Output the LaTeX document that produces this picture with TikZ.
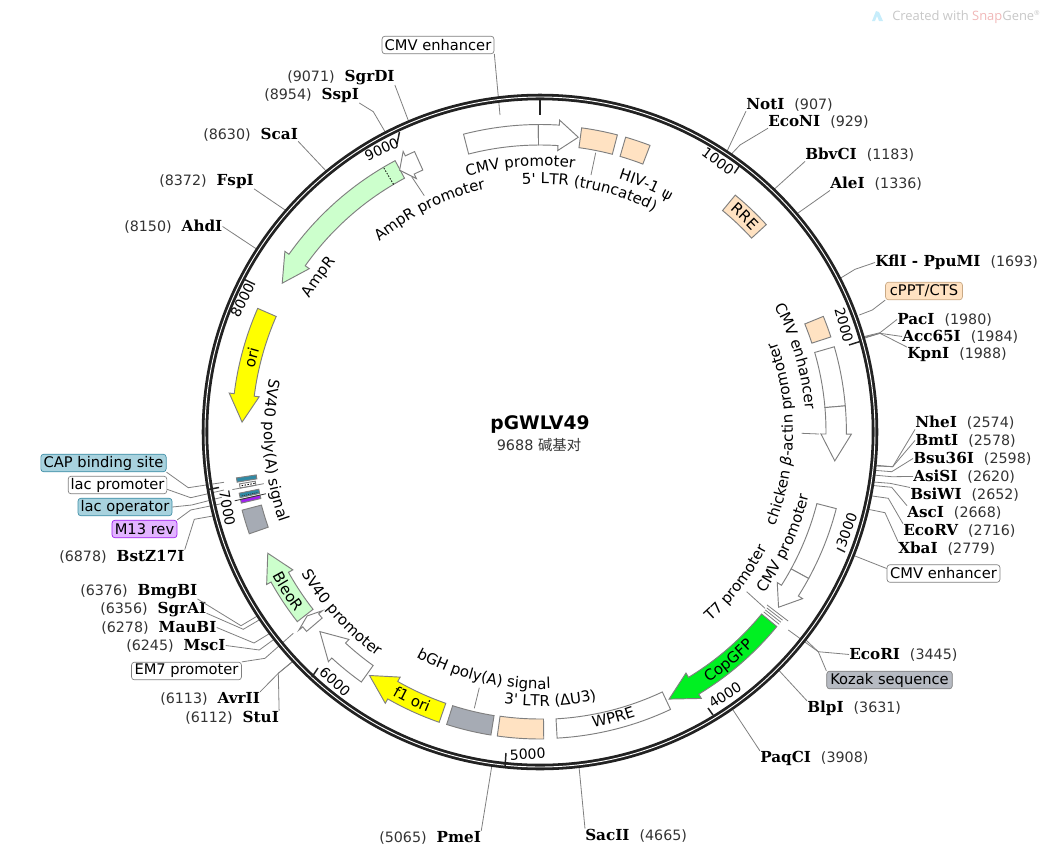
\documentclass[tikz,border=0pt]{standalone}
\usepackage{fontspec}
\usetikzlibrary{decorations.text}
\newfontfamily\sansf{DejaVu Sans}
\newfontfamily\serf{DejaVu Serif}
\newfontfamily\wmf{Open Sans}
\newfontfamily\cjkf{Noto Sans CJK SC}
\newcommand\lblfont{\sansf\fontsize{11}{13}\selectfont}
\newcommand\arcfont{\sansf\fontsize{11.25}{13}\selectfont}
\newcommand\sitename[1]{{\serf\bfseries\fontsize{11.4}{13}\selectfont #1}}
\newcommand\sitenum[1]{{\sansf\fontsize{10.7}{13}\selectfont\color{numcol}#1}}
\definecolor{numcol}{HTML}{333333}
\definecolor{ringcol}{HTML}{222222}
\definecolor{edge}{HTML}{7F7F7F}
\definecolor{peach}{HTML}{FFE2C2}
\definecolor{peachedge}{HTML}{C9A985}
\definecolor{paleg}{HTML}{CCFFCC}
\definecolor{greyf}{HTML}{A6ABB4}
\definecolor{vivid}{HTML}{00F022}
\definecolor{yel}{HTML}{FFFF00}
\definecolor{teal1}{HTML}{2F8AA5}
\definecolor{tealbox}{HTML}{A8D2DE}
\definecolor{tealedge}{HTML}{3E8EA6}
\definecolor{purp}{HTML}{A020F0}
\definecolor{purpbox}{HTML}{E2B4FF}
\definecolor{kozak}{HTML}{B6BAC2}
\tikzset{
  x=0.75pt,y=-0.75pt,
  feat/.style={draw=edge,line width=0.7pt,line join=miter},
  lead/.style={draw=edge,line width=0.6pt},
  ticka/.style={draw=ringcol,line width=1.1pt},
  sitelab/.style={inner sep=0pt,anchor=west,yshift=-1.1pt},
  ticklab/.style={inner sep=0pt,font=\sansf\fontsize{10.5}{13}\selectfont,text=black},
  lbox/.style={rounded corners=2.2pt,draw=#1,line width=0.5pt,inner sep=0pt,minimum height=13.2pt,font=\lblfont,text=black},
}
\newcommand\farc[5]{\draw[feat,fill=#5] plot[domain=#1:#2,samples=25] ({\x-90}:#4) -- plot[domain=#2:#1,samples=25] ({\x-90}:#3) -- cycle;}
\newcommand\farrow[6]{\draw[feat,fill=#6] plot[domain=#1:#2,samples=25] ({\x-90}:#5) -- ({#2-90}:{#5+5}) -- ({#3-90}:{(#4+#5)/2}) -- ({#2-90}:{#4-5}) -- plot[domain=#2:#1,samples=25] ({\x-90}:#4) -- cycle;}
\newcommand\arclab[4]{\pgfmathsetmacro\thA{#3-35*#4}\pgfmathsetmacro\thB{#3+35*#4}
  \path[decorate,decoration={text along path,text align=center,text={#1}}] plot[domain=\thA:\thB,samples=71] ({\x-90}:#2);}
\newcommand\ringpt[2]{\coordinate (#1) at ({#2/9688*360-90}:336);}
\newcommand\sitel[5]{\node[sitelab] (#1) at (#2,#3) {\sitenum{#4}\hspace{7.5pt}\sitename{#5}};}
\newcommand\siter[5]{\node[sitelab] (#1) at (#2,#3) {\sitename{#4}\hspace{7.5pt}\sitenum{#5}};}
\begin{document}
\begin{tikzpicture}
\useasboundingbox (0,0) rectangle (1051,854);
% ---- labels of the sites
\sitel{SgrDI}{287}{76}{(9071)}{SgrDI}
\sitel{SspI}{264}{94}{(8954)}{SspI}
\sitel{ScaI}{203}{133}{(8630)}{ScaI}
\sitel{FspI}{159}{180}{(8372)}{FspI}
\sitel{AhdI}{124}{225}{(8150)}{AhdI}
\sitel{BstZ}{59}{555}{(6878)}{BstZ17I}
\sitel{BmgBI}{80}{590}{(6376)}{BmgBI}
\sitel{SgrAI}{100}{608}{(6356)}{SgrAI}
\sitel{MauBI}{101}{626}{(6278)}{MauBI}
\sitel{MscI}{126}{644}{(6245)}{MscI}
\sitel{AvrII}{160}{697}{(6113)}{AvrII}
\sitel{StuI}{185}{716}{(6112)}{StuI}
\sitel{PmeI}{379}{836}{(5065)}{PmeI}
\siter{NotI}{746}{103}{NotI}{(907)}
\siter{EcoNI}{768}{120}{EcoNI}{(929)}
\siter{BbvCI}{805}{153}{BbvCI}{(1183)}
\siter{AleI}{830}{182}{AleI}{(1336)}
\siter{Kfl}{875}{261}{KflI - PpuMI}{(1693)}
\siter{PacI}{897}{318}{PacI}{(1980)}
\siter{Acc}{902}{335}{Acc65I}{(1984)}
\siter{KpnI}{907}{353}{KpnI}{(1988)}
\siter{NheI}{915}{421}{NheI}{(2574)}
\siter{BmtI}{915}{439}{BmtI}{(2578)}
\siter{Bsu}{913}{457}{Bsu36I}{(2598)}
\siter{AsiSI}{913}{475}{AsiSI}{(2620)}
\siter{BsiWI}{910}{493}{BsiWI}{(2652)}
\siter{AscI}{907}{511}{AscI}{(2668)}
\siter{EcoRV}{903}{529}{EcoRV}{(2716)}
\siter{XbaI}{898}{547}{XbaI}{(2779)}
\siter{EcoRI}{849}{653}{EcoRI}{(3445)}
\siter{BlpI}{807}{707}{BlpI}{(3631)}
\siter{PaqCI}{760}{757}{PaqCI}{(3908)}
\siter{SacII}{585}{834}{SacII}{(4665)}
% ---- boxed feature labels
\node[lbox=edge,fill=white,minimum width=84pt] (bCMVtop) at (438,45) {CMV enhancer};
\node[lbox=peachedge,fill=peach,minimum width=57.7pt] (bcPPT) at (924,291) {cPPT/CTS};
\node[lbox=edge,fill=white,minimum width=84.7pt] (bCMVr) at (943.5,573.5) {CMV enhancer};
\node[lbox=edge,fill=kozak,minimum width=94.2pt] (bKozak) at (889.5,680) {Kozak sequence};
\node[lbox=edge,fill=white,minimum width=82.5pt] (bEM7) at (186.5,671) {EM7 promoter};
\node[lbox=tealedge,fill=tealbox,minimum width=94pt] (bCAP) at (103.5,463) {CAP binding site};
\node[lbox=edge,fill=white,minimum width=74pt] (blacP) at (117.5,485) {lac promoter};
\node[lbox=tealedge,fill=tealbox,minimum width=70.5pt] (blacO) at (125,507) {lac operator};
\node[lbox=purp,fill=purpbox,minimum width=48.7pt] (bM13) at (144.5,529) {M13 rev};
\begin{scope}[shift={(540,432)}]
\ringpt{rSgrDI}{9071}\ringpt{rSspI}{8954}\ringpt{rScaI}{8630}\ringpt{rFspI}{8372}\ringpt{rAhdI}{8150}
\ringpt{rBstZ}{6878}\ringpt{rBmgBI}{6376}\ringpt{rSgrAI}{6356}\ringpt{rMauBI}{6278}\ringpt{rMscI}{6245}
\ringpt{rAvrII}{6113}\ringpt{rStuI}{6112}\ringpt{rPmeI}{5065}\ringpt{rNotI}{907}\ringpt{rEcoNI}{929}
\ringpt{rBbvCI}{1183}\ringpt{rAleI}{1336}\ringpt{rKfl}{1693}\ringpt{rPacI}{1980}\ringpt{rAcc}{1984}
\ringpt{rKpnI}{1988}\ringpt{rNheI}{2574}\ringpt{rBmtI}{2578}\ringpt{rBsu}{2598}\ringpt{rAsiSI}{2620}
\ringpt{rBsiWI}{2652}\ringpt{rAscI}{2668}\ringpt{rEcoRV}{2716}\ringpt{rXbaI}{2779}\ringpt{rEcoRI}{3445}
\ringpt{rBlpI}{3631}\ringpt{rPaqCI}{3908}\ringpt{rSacII}{4665}
\coordinate (fCMVtop) at (-40,-317);
\coordinate (fcPPT) at (319.3,-117);
\coordinate (fCMVr) at (315,124);
\coordinate (fKozak) at (248.3,198);
\coordinate (fEM7) at (-246.7,201.3);
\coordinate (fCAP) at (-316,50.3);
\coordinate (flacP) at (-316,58);
\coordinate (flacO) at (-318.3,65.3);
\coordinate (fM13) at (-316.7,71.3);
\end{scope}
% ---- leaders outside the ring
\draw[lead] (SgrDI.south east) -- (rSgrDI);
\draw[lead] (SspI.south east) -- (373.3,111.7) -- (rSspI);
\draw[lead] (ScaI.south east) -- (rScaI);
\draw[lead] (FspI.south east) -- (rFspI);
\draw[lead] (AhdI.east) -- (rAhdI);
\draw[lead] (BstZ.north east) -- (194.3,519.3) -- (rBstZ);
\draw[lead] (BmgBI.south east) -- (241,625.7) -- (rBmgBI);
\draw[lead] (SgrAI.-4) -- (243.3,629.3) -- (rSgrAI);
\draw[lead] (MauBI.east) -- (254,643) -- (rMauBI);
\draw[lead] (MscI.east) -- (259.3,650) -- (rMscI);
\draw[lead] (AvrII.north east) -- (278.3,673.3) -- (rAvrII);
\draw[lead] (StuI.north east) -- (278.3,673.3) -- (rStuI);
\draw[lead] (PmeI.north east) -- (rPmeI);
\draw[lead] (NotI.south west) -- (rNotI);
\draw[lead] (EcoNI.south west) -- (740,145) -- (rEcoNI);
\draw[lead] (BbvCI.south west) -- (rBbvCI);
\draw[lead] (AleI.south west) -- (rAleI);
\draw[lead] (Kfl.west) -- (855,269.3) -- (rKfl);
\draw[lead] (PacI.west) -- (880,332.7) -- (rPacI);
\draw[lead] (Acc.west) -- (880,333.3) -- (rAcc);
\draw[lead] (KpnI.north west) -- (880,333.3) -- (rKpnI);
\draw[lead] (NheI.south west) -- (892.7,466.7) -- (rNheI);
\draw[lead] (BmtI.west) -- (892.7,466.7) -- (rBmtI);
\draw[lead] (Bsu.west) -- (891.7,471.7) -- (rBsu);
\draw[lead] (AsiSI.west) -- (891.7,476.7) -- (rAsiSI);
\draw[lead] (BsiWI.north west) -- (890,483.3) -- (rBsiWI);
\draw[lead] (AscI.north west) -- (891.7,487.3) -- (rAscI);
\draw[lead] (EcoRV.north west) -- (888.3,498.3) -- (rEcoRV);
\draw[lead] (XbaI.north west) -- (885,512.7) -- (rXbaI);
\draw[lead] (EcoRI.west) -- (818.3,651.7) -- (rEcoRI);
\draw[lead] (BlpI.north west) -- (rBlpI);
\draw[lead] (PaqCI.north west) -- (rPaqCI);
\draw[lead] (SacII.north west) -- (rSacII);
\draw[lead] (bCMVtop.-9.5) -- (fCMVtop);
\draw[lead] (bcPPT.south west) -- (872.3,310) -- (fcPPT);
\draw[lead] (bCMVr.175) -- (fCMVr);
\draw[lead] (bKozak.north west) -- (818.3,651.7) -- (fKozak);
\draw[lead] (bEM7.north east) -- (265,658.3) -- (fEM7);
\draw[lead] (bCAP.south east) -- (188.3,487.7) -- (fCAP);
\draw[lead] (blacP.-5) -- (190.7,497.7) -- (flacP);
\draw[lead] (blacO.east) -- (191.7,505) -- (flacO);
\draw[lead] (bM13.north east) -- (190.7,510) -- (fM13);
\begin{scope}[shift={(540,432)}]
% ---- ring and ticks
\draw[ringcol,line width=4.9pt] (0,0) circle[radius=335];
\draw[white,line width=0.7pt] (0,0) circle[radius=335];
\end{scope}
\draw[ringcol,line width=2pt] (540,98) -- (540,115);
\draw[ticka] (739.3,166) -- (734.3,173.3);
\draw[ticka] (860,341.5) -- (849,345);
\draw[ticka] (845,552) -- (837,548);
\draw[ticka] (713,715) -- (708,708);
\draw[ticka] (506,753) -- (505,767);
\draw[ticka] (312,677) -- (318,668);
\draw[ticka] (208,489.5) -- (219,487.5);
\draw[ticka] (245,279.7) -- (255,284.5);
\draw[ticka] (399.5,132) -- (397,144);
\node[ticklab,rotate=-37] (t1) at (718,161) {1000};
\node[ticklab,rotate=-75] (t2) at (844,325) {2000};
\node[ticklab,rotate=70] (t3) at (846.7,530) {3000};
\node[ticklab,rotate=33] (t4) at (725,695) {4000};
\node[ticklab,rotate=3] (t5) at (527.7,754.3) {5000};
\node[ticklab,rotate=-43] (t6) at (335,681.7) {6000};
\node[ticklab,rotate=-80] (t7) at (227.3,508.3) {7000};
\node[ticklab,rotate=63] (t8) at (242.3,300) {8000};
\node[ticklab,rotate=25] (t9) at (381.7,149.3) {9000};
% ---- features
\begin{scope}[shift={(540,432)}]
\farc{-14.4}{-0.3}{287}{307.5}{white}
\farrow{-0.3}{3.6}{7.4}{287}{307.5}{white}
\farc{7.8}{14.6}{287}{307}{peach}
\farc{16.2}{21}{287}{307}{peach}
\farc{39.5}{47.5}{287}{307}{peach}
\farc{67.8}{71.9}{286}{306}{peach}
\farc{73.85}{85.1}{286}{306.4}{white}
\farrow{85.1}{90.4}{95.6}{286}{306.4}{white}
\farc{104.5}{118.6}{286}{306}{white}
\farrow{118.6}{122.4}{126.3}{286}{306}{white}
\draw[feat,line width=0.6pt] (127.3-90:285.4) -- (127.3-90:312);
\draw[feat,line width=0.6pt] (127.8-90:287) -- (127.8-90:307);
\draw[feat,line width=0.6pt] (128.3-90:287) -- (128.3-90:307);
\draw[feat,line width=0.6pt] (128.8-90:287) -- (128.8-90:307);
\farrow{129.4}{148.8}{154.2}{286.8}{306.5}{vivid}
\farc{154.8}{176.8}{287.3}{306.6}{white}
\farc{179.3}{188}{287}{307}{peach}
\farc{189.2}{197.7}{287.3}{307}{greyf}
\farrow{199.15}{209.7}{215}{287.2}{307.3}{yel}
\farrow{215.55}{222.65}{227.8}{287}{307.3}{white}
\farrow{229.5}{230.6}{231.7}{286.5}{307}{white}
\farrow{232}{240.85}{246}{288}{308}{paleg}
\farc{250.7}{255.3}{288}{308}{greyf}
\farc{256.6}{257.3}{287}{307}{purp}
\draw[feat,draw=numcol,line width=0.6pt] (257.3-90:281) -- (257.3-90:313);
\farc{257.65}{258.5}{287}{307}{teal1}
\draw[numcol,line width=0.5pt,dash pattern=on 0.8pt off 0.8pt] (257.9-90:289) -- (257.9-90:305);
\farc{259.4}{260.2}{289}{305}{white}
\draw[feat,line width=0.6pt] (259.4-90:281) -- (259.4-90:313);
\draw[black,line width=0.7pt,dash pattern=on 1pt off 1.2pt] (259.8-90:290) -- (259.8-90:304);
\farc{260.6}{261.4}{287}{307}{teal1}
\farrow{293.65}{277.15}{271.9}{288}{308.2}{yel}
\farrow{331.9}{305.3}{300}{287.7}{307.6}{paleg}
\draw[black,line width=0.6pt,dash pattern=on 1.1pt off 1.1pt] (329.4-90:287.7) -- (329.4-90:307.6);
\farrow{335.9}{334}{331.8}{287}{307.2}{white}
% ---- texts that follow the circle
\arclab{|\arcfont|CMV promoter}{266}{-4.2}{1}
\arclab{|\arcfont|5' LTR (truncated)}{248}{11.6}{1}
\arclab{|\arcfont|HIV-1 ψ}{265}{23.2}{1}
\arclab{|\arcfont|AmpR promoter}{249}{-26.4}{1}
\arclab{|\arcfont|AmpR}{266}{-55}{1}
\arclab{|\arcfont|RRE}{292}{43.5}{1}
\arclab{|\arcfont|ori}{292.5}{284.4}{1}
\arclab{|\arcfont|CMV enhancer}{266}{73.5}{1}
\arclab{|\arcfont|chicken |\arcfont\itshape|β|\arcfont|-actin promoter}{253}{90.5}{-1}
\arclab{|\arcfont|CMV promoter}{276}{114.5}{-1}
\arclab{|\arcfont|T7 promoter}{255}{127.6}{-1}
\arclab{|\arcfont|CopGFP}{302}{140.5}{-1}
\arclab{|\arcfont|WPRE}{300.5}{165.6}{-1}
\arclab{|\arcfont|3' LTR (ΔU3)}{274}{177.8}{-1}
\arclab{|\arcfont|bGH poly(A) signal}{257}{193.2}{-1}
\arclab{|\arcfont|f1 ori}{302}{205.6}{-1}
\arclab{|\arcfont|SV40 promoter}{277.5}{227.7}{-1}
\arclab{|\arcfont|BleoR}{304}{237.7}{-1}
\arclab{|\arcfont|SV40 poly(A) signal}{276}{266}{-1}
\end{scope}
% ---- leaders inside the ring
\path (540,432) ++(55.7,-279.3) coordinate (fLTRe) ++(-4.7,22.3) coordinate (tLTR);
\draw[lead] (fLTRe) -- (tLTR);
\path (540,432) ++(-128.3,-255.3) coordinate (fAmpPe) ++(12.6,19) coordinate (tAmpP);
\draw[lead] (fAmpPe) -- (tAmpP);
\path (540,432) ++(279,2) coordinate (fAct) ++(-17.3,-0.7) coordinate (tAct);
\draw[lead] (fAct) -- (tAct);
\path (540,432) ++(-65.7,276.3) coordinate (fGH) ++(5,-20.6) coordinate (tGH);
\draw[lead] (fGH) -- (tGH);
\path (540,432) ++(225,176.3) coordinate (fTs) ++(-18.3,-16.6) coordinate (tT7);
\draw[lead] (fTs) -- (tT7);
% ---- centre
\node[inner sep=0pt,font=\sansf\bfseries\fontsize{14}{16}\selectfont,text=black] (title) at (540,425) {pGWLV49};
\node[inner sep=0pt,font=\sansf\fontsize{10.8}{13}\selectfont,text=numcol] (size) at (539,445) {9688 {\cjkf 碱基对}};
% ---- watermark
\fill[draw=none,fill=cyan!22] (872,21) -- (876,11) -- (879,12) -- (883,21) -- (879,21) -- (877,16) -- (875,21) -- cycle;
\node[inner sep=0pt,anchor=west,font=\wmf\fontsize{9.7}{11}\selectfont,text=black!22] (wm) at (892,17) {Created with {\color[HTML]{F0B8B8}Snap}Gene\textsuperscript{\tiny ®}};
\end{tikzpicture}
\end{document}
